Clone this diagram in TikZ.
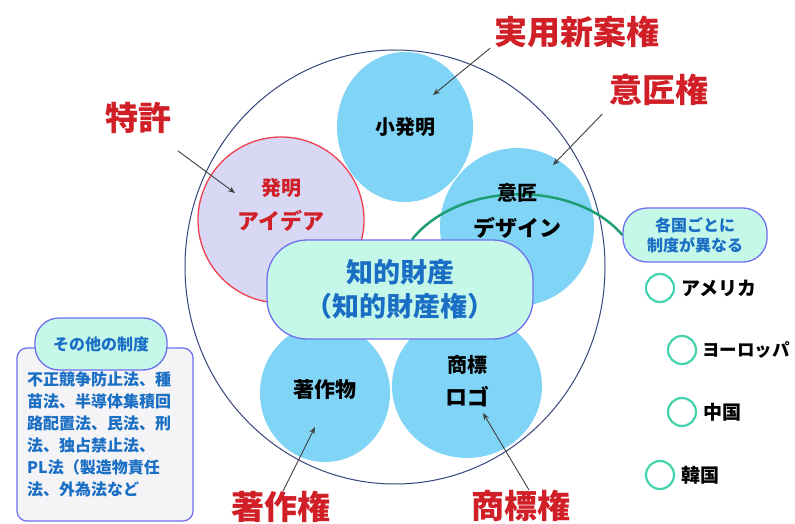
\documentclass[tikz,border=0pt]{standalone}
\usepackage{fontspec}
\setmainfont{Noto Sans CJK JP}
\usetikzlibrary{shapes.geometric,arrows.meta}
\definecolor{cblue}{HTML}{80D4F6}
\definecolor{clav}{HTML}{D8D8F4}
\definecolor{credb}{HTML}{F04050}
\definecolor{cmint}{HTML}{C6F8EA}
\definecolor{cbord}{HTML}{7070EE}
\definecolor{ctblue}{HTML}{1A6FC4}
\definecolor{cred}{HTML}{D01F26}
\definecolor{cnavy}{HTML}{35467A}
\definecolor{cgreen}{HTML}{1E9E74}
\definecolor{cteal}{HTML}{45D3AE}
\definecolor{cgrayb}{HTML}{F4F4F6}
\definecolor{carrow}{HTML}{404040}
\begin{document}
\begin{tikzpicture}[x=1pt,y=-1pt,
  bluecirc/.style={ellipse, fill=cblue, inner sep=0pt},
  redlabel/.style={text=cred, inner sep=0pt, font=\fontsize{33}{36}\selectfont\bfseries},
  circtext/.style={inner sep=0pt, font=\fontsize{#1}{24}\selectfont\bfseries},
  arr/.style={draw=carrow, line width=0.9pt, -{Stealth[length=7pt,width=5.5pt]}},
  mintbox/.style={rectangle, fill=cmint, draw=cbord, line width=1.3pt, align=center, text=ctblue},
  ctry/.style={circle, draw=cteal, line width=2.2pt, minimum size=28pt, inner sep=0pt},
  ctrytext/.style={anchor=west, inner sep=0pt, font=\fontsize{19}{22}\selectfont\bfseries}
]
\useasboundingbox (0,0) rectangle (795,524);
\fill[white] (0,0) rectangle (795,524);

% big circle
\node[ellipse, draw=cnavy, line width=1pt, minimum width=420pt, minimum height=434pt] (big) at (395,267) {};

% circles
\node[bluecirc, minimum width=136pt, minimum height=150pt] (shohatsu) at (405,127) {};
\node[bluecirc, minimum width=154pt, minimum height=158pt] (isho) at (517,227) {};
\node[bluecirc, minimum width=130pt, minimum height=138pt] (chosaku) at (325,393) {};
\node[bluecirc, minimum width=150pt, minimum height=144pt] (shohyo) at (467,386) {};
\node[ellipse, fill=clav, draw=credb, line width=1.3pt, minimum width=166pt, minimum height=166pt] (hatsumei) at (281,220) {};

% central box and per-country box
\node[mintbox, rounded corners=40pt, minimum width=266pt, minimum height=99pt,
      font=\fontsize{27}{34}\selectfont\bfseries] (kenri) at (400,289.5) {知的財産\\（知的財産権）};
\node[mintbox, rounded corners=24pt, minimum width=144pt, minimum height=54pt,
      font=\fontsize{16}{20}\selectfont\bfseries] (kakkoku) at (695,235) {各国ごとに\\制度が異なる};

% green arc
\draw[cgreen, line width=2.5pt] ([xshift=12pt]kenri.north) .. controls (460,180) and (575,180) .. (kakkoku.west);

% circle texts
\node[circtext=20] (t1) at (405,127) {小発明};
\node[circtext=20, text=cred] (t2) at (281,188) {発明};
\node[circtext=22, text=cred] (t3) at (281,221) {アイデア};
\node[circtext=20] (t4) at (517,193) {意匠};
\node[circtext=22] (t5) at (517,228) {デザイン};
\node[circtext=21] (t6) at (325,390) {著作物};
\node[circtext=20] (t7) at (467,365) {商標};
\node[circtext=22] (t8) at (467,397) {ロゴ};

% red labels
\node[redlabel] (tokkyo) at (138,118) {特許};
\node[redlabel] (jitsuyo) at (577,32) {実用新案権};
\node[redlabel] (ishoken) at (659,90) {意匠権};
\node[redlabel] (chosakuken) at (281,507) {著作権};
\node[redlabel] (shohyoken) at (521,506) {商標権};

% arrow heads
\coordinate (h1) at (235,193);
\coordinate (h2) at (433,95);
\coordinate (h3) at (553,165);
\coordinate (h4) at (315,427);
\coordinate (h5) at (483,413);
\draw[arr] ([shift={(40pt,-17pt)}]tokkyo.south) -- (h1);
\draw[arr] ([xshift=-4pt]jitsuyo.south west) -- (h2);
\draw[arr] ([shift={(-7pt,-8pt)}]ishoken.south west) -- (h3);
\draw[arr] ([xshift=2pt]chosakuken.north) -- (h4);
\draw[arr] ([xshift=8pt]shohyoken.north) -- (h5);

% countries
\node[ctry] (c1) at (660,288) {};
\node[ctry] (c2) at (682,350) {};
\node[ctry] (c3) at (682,412) {};
\node[ctry] (c4) at (660,475) {};
\node[ctrytext] (n1) at ([xshift=6pt]c1.east) {アメリカ};
\node[ctrytext, font=\fontsize{17.5}{22}\selectfont\bfseries] (n2) at ([xshift=5pt]c2.east) {ヨーロッパ};
\node[ctrytext] (n3) at ([xshift=6pt]c3.east) {中国};
\node[ctrytext] (n4) at ([xshift=6pt]c4.east) {韓国};

% other systems box
\node[rectangle, rounded corners=10pt, fill=cgrayb, draw=cbord, line width=1.3pt,
      minimum width=176pt, minimum height=173pt] (other) at (105,434.5) {};
\node[mintbox, rounded corners=24pt, minimum width=132pt, minimum height=52pt,
      font=\fontsize{16}{20}\selectfont\bfseries] (otherhead) at (101,344) {その他の制度};
\node[anchor=north west, inner sep=0pt, align=left, text=ctblue,
      font=\fontsize{16}{22}\selectfont\bfseries] (othertext) at (27,372)
  {不正競争防止法、種\\苗法、半導体集積回\\路配置法、民法、刑\\法、独占禁止法、\\PL法（製造物責任\\法、外為法など};
\end{tikzpicture}
\end{document}
